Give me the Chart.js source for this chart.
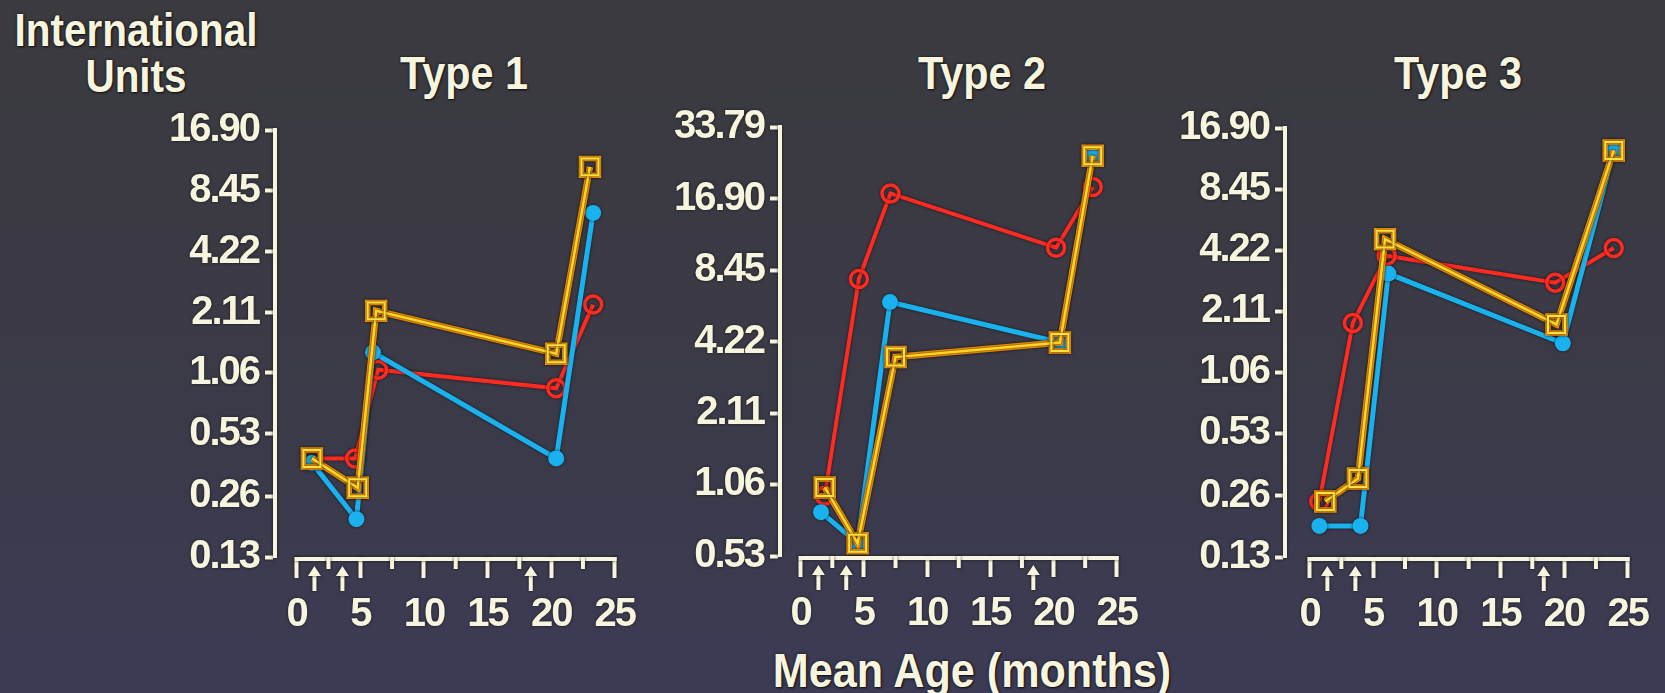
<!DOCTYPE html>
<html>
<head>
<meta charset="utf-8">
<script src="https://cdn.jsdelivr.net/npm/chart.js@4.4.1/dist/chart.umd.min.js"></script>
<style>
  html, body { margin: 0; padding: 0; }
  body {
    width: 1665px; height: 693px; overflow: hidden; position: relative;
    background: linear-gradient(180deg, #3a3a3f 0%, #3b3a47 55%, #3c3b55 100%);
    font-family: 'Liberation Sans', Arial, sans-serif;
  }
  .txt {
    position: absolute; color: #f8f5de; font-weight: bold; white-space: nowrap;
    text-align: center; transform: scaleX(0.88);
    text-shadow: 0 0 3px #141318, 1px 1px 2px #141318;
  }
  canvas { position: absolute; }
</style>
</head>
<body>
<div class="txt" style="left:-14px; top:7px; width:300px; font-size:46px; line-height:46px;">International<br>Units</div>
<div class="txt" style="left:364px; top:50px; width:200px; font-size:47px; line-height:46px;">Type 1</div>
<div class="txt" style="left:882px; top:50px; width:200px; font-size:47px; line-height:46px;">Type 2</div>
<div class="txt" style="left:1358px; top:50px; width:200px; font-size:47px; line-height:46px;">Type 3</div>
<div class="txt" style="left:722px; top:646px; width:500px; font-size:49px; line-height:48px;">Mean Age (months)</div>

<canvas id="chart1" width="500" height="560" style="left:150px; top:100px;"></canvas>
<canvas id="chart2" width="497" height="562" style="left:655px; top:97px;"></canvas>
<canvas id="chart3" width="503" height="562" style="left:1160px; top:98px;"></canvas>

<script>
// x axis (mean age, months)
const xTicks = [0, 2.5, 5, 7.5, 10, 12.5, 15, 17.5, 20, 22.5, 25];
const doseAges = [1.4, 3.6, 18.4];

// Type 1
const type1Ticks = [0.13, 0.26, 0.53, 1.06, 2.11, 4.22, 8.45, 16.90];
const type1CyanAges = [1.2, 4.7, 6.0, 20.4, 23.3];
const type1Cyan = [0.38, 0.20, 1.34, 0.40, 6.57];
const type1RedAges = [1.2, 4.6, 6.4, 20.4, 23.3];
const type1Red = [0.40, 0.40, 1.10, 0.89, 2.31];
const type1OrangeAges = [1.2, 4.8, 6.25, 20.4, 23.05];
const type1Orange = [0.40, 0.286, 2.15, 1.32, 11.1];

// Type 2
const type2Ticks = [0.53, 1.06, 2.11, 4.22, 8.45, 16.90, 33.79];
const type2CyanAges = [1.6, 4.5, 7.06, 20.5, 23.1];
const type2Cyan = [0.81, 0.60, 6.2, 4.19, 25.6];
const type2RedAges = [1.9, 4.6, 7.1, 20.2, 23.1];
const type2Red = [0.95, 7.75, 17.75, 10.5, 18.9];
const type2OrangeAges = [1.9, 4.5, 7.5, 20.5, 23.1];
const type2Orange = [1.03, 0.60, 3.64, 4.19, 25.6];

// Type 3
const type3Ticks = [0.13, 0.26, 0.53, 1.06, 2.11, 4.22, 8.45, 16.90];
const type3CyanAges = [0.77, 4.0, 6.19, 19.9, 23.9];
const type3Cyan = [0.185, 0.185, 3.24, 1.47, 13.1];
const type3RedAges = [0.77, 3.4, 6.06, 19.3, 23.9];
const type3Red = [0.244, 1.85, 3.97, 2.92, 4.33];
const type3OrangeAges = [1.24, 3.8, 5.93, 19.4, 23.9];
const type3Orange = [0.244, 0.317, 4.79, 1.82, 13.1];

const cream = '#f8f5de';
const tickFont = { family: "'Liberation Sans', Arial, sans-serif", size: 40, weight: 'bold' };

function points(ages, vals){
    return ages.map((a, i) => ({ x: a, y: vals[i] }));
}

// shadow around everything + the x axis ruler with its arrows
const decor = {
    id: 'decor',
    beforeDraw(chart){
        const c = chart.ctx;
        c.save();
        c.shadowColor = 'rgba(12,12,18,0.8)';
        c.shadowBlur = 3;
        c.letterSpacing = '-2px';
    },
    afterDraw(chart){
        const c = chart.ctx;
        const xs = chart.scales.x;
        const base = chart.chartArea.bottom;
        c.save();
        c.strokeStyle = cream;
        c.fillStyle = cream;
        c.lineWidth = 4;
        const x0 = xs.getPixelForValue(xTicks[0]);
        const x1 = xs.getPixelForValue(xTicks[xTicks.length - 1]);
        c.beginPath();
        c.moveTo(x0 - 2, base + 2);
        c.lineTo(x1 + 2, base + 2);
        c.stroke();
        xTicks.forEach(v => {
            if(v % 5 !== 0){
                const px = xs.getPixelForValue(v);
                c.beginPath();
                c.moveTo(px, base);
                c.lineTo(px, base + 12);
                c.stroke();
            }
        });
        c.lineWidth = 4;
        doseAges.forEach(a => {
            const px = xs.getPixelForValue(a);
            c.beginPath();
            c.moveTo(px, base + 34);
            c.lineTo(px, base + 17);
            c.stroke();
            c.beginPath();
            c.moveTo(px, base + 9);
            c.lineTo(px - 6.5, base + 19);
            c.lineTo(px + 6.5, base + 19);
            c.closePath();
            c.fill();
        });
        c.restore();
        c.restore();
    }
};

function renderPanel(id, xMin, yTicks, cyanAges, cyan, redAges, red, orangeAges, orange){
    const ctx = document.getElementById(id);
    return new Chart(ctx, {
        type: 'line',
        data: {
            datasets: [{
                label: 'orange core',
                data: points(orangeAges, orange),
                borderColor: '#ffd52a',
                borderWidth: 2.5,
                pointStyle: 'rect',
                pointRadius: 12,
                pointBorderWidth: 2,
                pointBorderColor: '#ffe040',
                pointBackgroundColor: 'rgba(0,0,0,0)',
                order: 0
            }, {
                label: 'orange',
                data: points(orangeAges, orange),
                borderColor: '#ff9a00',
                borderWidth: 6.5,
                pointStyle: 'rect',
                pointRadius: 12,
                pointBorderWidth: 5.5,
                pointBorderColor: '#ff9a00',
                pointBackgroundColor: 'rgba(0,0,0,0)',
                order: 1
            }, {
                label: 'cyan',
                data: points(cyanAges, cyan),
                borderColor: '#19b2ef',
                borderWidth: 5,
                pointStyle: 'circle',
                pointRadius: 8,
                pointBorderWidth: 0,
                pointBackgroundColor: '#19b2ef',
                order: 2
            }, {
                label: 'red',
                data: points(redAges, red),
                borderColor: '#ff2a20',
                borderWidth: 4,
                pointStyle: 'circle',
                pointRadius: 8.5,
                pointBorderWidth: 3.5,
                pointBorderColor: '#ff2a20',
                pointBackgroundColor: 'rgba(0,0,0,0)',
                order: 3
            }]
        },
        options: {
            responsive: false,
            animation: false,
            devicePixelRatio: 1,
            layout: { padding: { top: 24, right: 30, bottom: 0, left: 0 } },
            elements: { line: { tension: 0 } },
            plugins: { legend: { display: false }, tooltip: { enabled: false }, title: { display: false } },
            scales: {
                x: {
                    type: 'linear',
                    min: xMin,
                    max: xTicks[xTicks.length - 1],
                    afterBuildTicks: s => { s.ticks = xTicks.map(v => ({ value: v })); },
                    afterFit: s => { s.height = 103; },
                    border: { display: false },
                    grid: {
                        drawOnChartArea: false,
                        drawTicks: true,
                        tickLength: 21,
                        tickWidth: 4,
                        tickColor: c => (c.tick && c.tick.value % 5 === 0) ? cream : 'rgba(0,0,0,0)'
                    },
                    ticks: {
                        color: cream,
                        font: tickFont,
                        padding: 13,
                        maxRotation: 0,
                        autoSkip: false,
                        callback: v => (v % 5 === 0 ? String(v) : '')
                    }
                },
                y: {
                    type: 'logarithmic',
                    min: yTicks[0],
                    max: yTicks[yTicks.length - 1],
                    afterBuildTicks: s => { s.ticks = yTicks.map(v => ({ value: v })); },
                    afterFit: s => { s.width = 125; },
                    border: { display: true, color: cream, width: 4 },
                    grid: { drawOnChartArea: false, tickLength: 10, tickWidth: 4, tickColor: cream },
                    ticks: {
                        color: cream,
                        font: tickFont,
                        padding: 6,
                        callback: v => Number(v).toFixed(2)
                    }
                }
            }
        },
        plugins: [decor]
    });
}

renderPanel('chart1', -1.7, type1Ticks, type1CyanAges, type1Cyan, type1RedAges, type1Red, type1OrangeAges, type1Orange);
renderPanel('chart2', -1.64, type2Ticks, type2CyanAges, type2Cyan, type2RedAges, type2Red, type2OrangeAges, type2Orange);
renderPanel('chart3', -1.93, type3Ticks, type3CyanAges, type3Cyan, type3RedAges, type3Red, type3OrangeAges, type3Orange);
</script>
</body>
</html>
